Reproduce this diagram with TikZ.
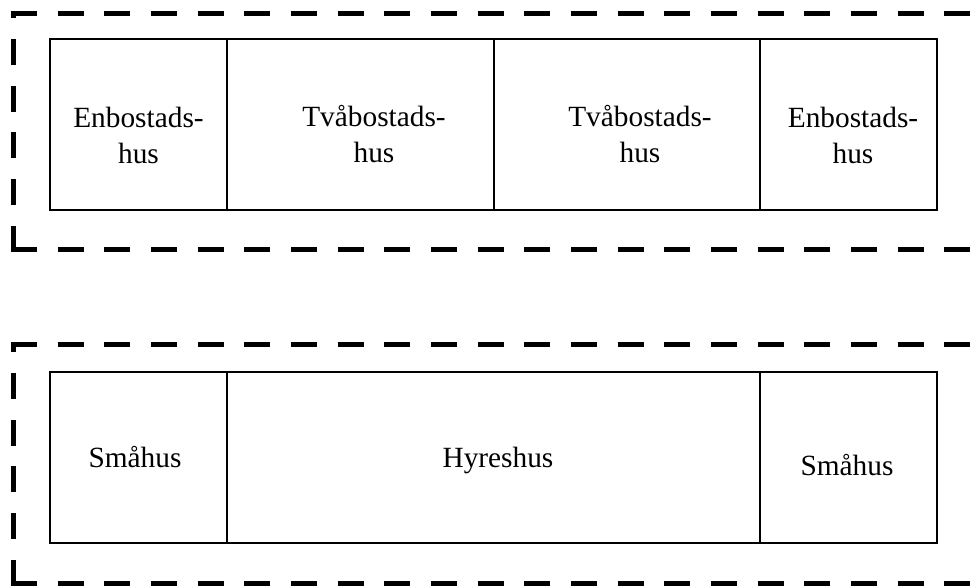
\documentclass[tikz,border=0pt]{standalone}
\usepackage{fontspec}
\setmainfont{Liberation Serif}
\usetikzlibrary{positioning}

\begin{document}
\begin{tikzpicture}[x=0.75pt,y=-0.75pt,node distance=0pt,
	cell/.style={rectangle,draw,line width=1.5pt,inner sep=0pt,outer sep=0pt,
		minimum height=128.25pt},
	txt/.style={align=center,inner sep=0pt,font=\fontsize{22}{27}\selectfont},
	frame/.style={line width=3.75pt,line cap=butt,dash pattern=on 19.5pt off 15.5pt}]
	
	\useasboundingbox (0,0) rectangle (975,586);
	
	% upper row
	\node[cell, minimum width=132.75pt, anchor=north west] (en1) at (50,39) {};
	\node[cell, minimum width=200.25pt, right=of en1] (tv1) {};
	\node[cell, minimum width=199.5pt, right=of tv1] (tv2) {};
	\node[cell, minimum width=132.75pt, right=of tv2] (en2) {};
	
	\node[txt] (en1t) at (138.5,135) {Enbostads-\\hus};
	\node[txt] (tv1t) at (374,134.5) {Tvåbostads-\\hus};
	\node[txt] (tv2t) at (640,134.5) {Tvåbostads-\\hus};
	\node[txt] (en2t) at (853,135) {Enbostads-\\hus};
	
	% lower row
	\node[cell, minimum width=132.75pt, anchor=north west] (sm1) at (50,372) {};
	\node[cell, minimum width=399.75pt, right=of sm1] (hy) {};
	\node[cell, minimum width=132.75pt, right=of hy] (sm2) {};
	
	\node[txt, anchor=base] (sm1t) at (135,467) {Småhus};
	\node[txt, anchor=base] (hyt) at (498,467) {Hyreshus};
	\node[txt, anchor=base] (sm2t) at (847,475) {Småhus};
	
	% dashed frames, open to the right
	\draw[frame] (11,13.5) -- (975,13.5);
	\draw[frame] (13.5,251.5) -- (13.5,11);
	\draw[frame] (11,249) -- (975,249);
	
	\draw[frame] (11,344) -- (975,344);
	\draw[frame] (13.5,585.5) -- (13.5,341.5);
	\draw[frame] (11,583) -- (975,583);
\end{tikzpicture}
\end{document}
